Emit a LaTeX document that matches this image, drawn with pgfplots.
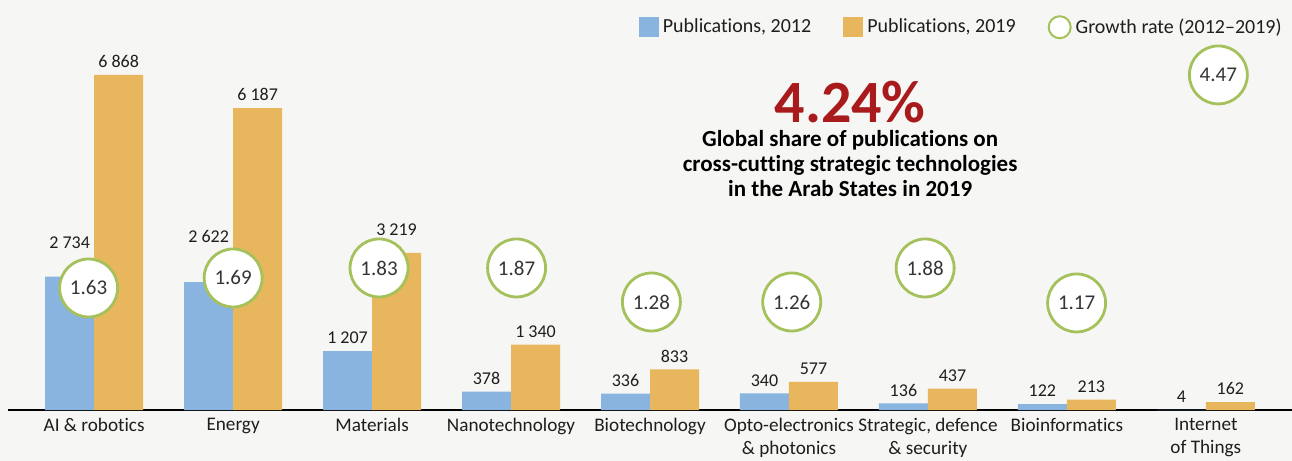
\documentclass[border=0pt]{standalone}
\usepackage{pgfplots}
\pgfplotsset{compat=1.18}
\usepackage{pgfplotstable}
\usepackage{fontspec}
\setmainfont{Carlito}[Ligatures=NoCommon]

\definecolor{bg}{HTML}{F6F6F4}
\definecolor{c12}{HTML}{88B4DF}
\definecolor{c19}{HTML}{E8B65C}
\definecolor{grn}{HTML}{A4C15B}
\definecolor{redt}{HTML}{A81A1C}
\definecolor{txt}{HTML}{1E1E1E}

% publications per field; dy12/dy19 lift a label clear of its circle
\pgfplotstableread{
x p12 p19 dy12 dy19
0 2734 6868 10.5 0
1 2622 6187 16 0
2 1207 3219 0 5
3 378 1340 0 0
4 336 833 0 0
5 340 577 0 0
6 136 437 0 0
7 122 213 0 0
8 4 162 0 0
}\pubs

% growth rate 2012-2019, circle positions
\pgfplotstableread{
x y g
-0.04 2500 1.63
1.00 2705 1.69
2.05 2910 1.83
3.04 2910 1.87
4.01 2213 1.28
5.02 2213 1.26
5.98 2910 1.88
7.07 2193 1.17
8.09 6865 4.47
}\growth

\begin{document}
\begin{tikzpicture}[font=\fontsize{10}{12}\selectfont, text=txt]
\path[use as bounding box, fill=bg] (-4pt,-25.5pt) rectangle (642pt,205pt);
\begin{axis}[
    scale only axis,
    width=642pt, height=205pt,
    xmin=-0.62, xmax=8.62,
    ymin=0, ymax=8400,
    clip=false,
    axis x line*=bottom,
    axis y line=none,
    x axis line style={line width=0.8pt, black},
    xtick=data,
    xtick style={draw=none},
    xticklabels={{AI \& robotics}, Energy, Materials, Nanotechnology, Biotechnology,
        {Opto-electronics\\\& photonics}, {Strategic, defence\\\& security},
        Bioinformatics, {Internet\\of Things}},
    xticklabel style={align=center, font=\fontsize{9.6}{11.5}\selectfont, text=txt, inner sep=4pt},
    /pgf/number format/assume math mode=true,
    /pgf/number format/1000 sep={\ },
    legend style={at={(1,1)}, anchor=north east, draw=none, fill=none,
        yshift=-5pt, font=\fontsize{10}{12}\selectfont,
        legend columns=3,
        /tikz/every even column/.append style={column sep=14pt}},
    nodes near coords style={font=\fontsize{9}{11}\selectfont, text=txt},
]
\addplot[ybar, bar width=24.5pt, bar shift=-12.25pt, fill=c12, draw=none,
    nodes near coords,
    visualization depends on={\thisrow{dy12} \as \dy},
    nodes near coords style={yshift=\dy, xshift=-12.25pt},
    legend image code/.code={\fill[c12] (0pt,-5pt) rectangle (10pt,5pt);}]
    table[x=x, y=p12] {\pubs};
\addlegendentry{Publications, 2012}
\addplot[ybar, bar width=24.5pt, bar shift=12.25pt, fill=c19, draw=none,
    nodes near coords,
    visualization depends on={\thisrow{dy19} \as \dyb},
    nodes near coords style={yshift=\dyb, xshift=12.25pt},
    legend image code/.code={\fill[c19] (0pt,-5pt) rectangle (10pt,5pt);}]
    table[x=x, y=p19] {\pubs};
\addlegendentry{Publications, 2019}
\addplot[only marks, mark=*, mark size=14.5pt,
    mark options={draw=grn, fill=white, line width=1.4pt},
    point meta=explicit symbolic,
    nodes near coords, nodes near coords align=center,
    nodes near coords style={font=\fontsize{10.5}{12}\selectfont, text=txt!90},
    legend image code/.code={\draw[grn, fill=white, line width=1pt] (5pt,0pt) circle (5.5pt);}]
    table[x=x, y=y, meta=g] {\growth};
\addlegendentry{Growth rate (2012--2019)}

\node[text=redt, inner sep=0pt, text depth=0pt, anchor=base,
    font=\fontsize{30}{32}\selectfont\bfseries] at (axis cs:5.44,5900) {4.24\%};
\node[anchor=north, align=center, inner sep=1pt, font=\fontsize{11.5}{12.5}\selectfont\bfseries, text=black]
    at (axis cs:5.44,5780)
    {Global share of publications on\\cross-cutting strategic technologies\\in the Arab States in 2019};
\end{axis}
\end{tikzpicture}
\end{document}
